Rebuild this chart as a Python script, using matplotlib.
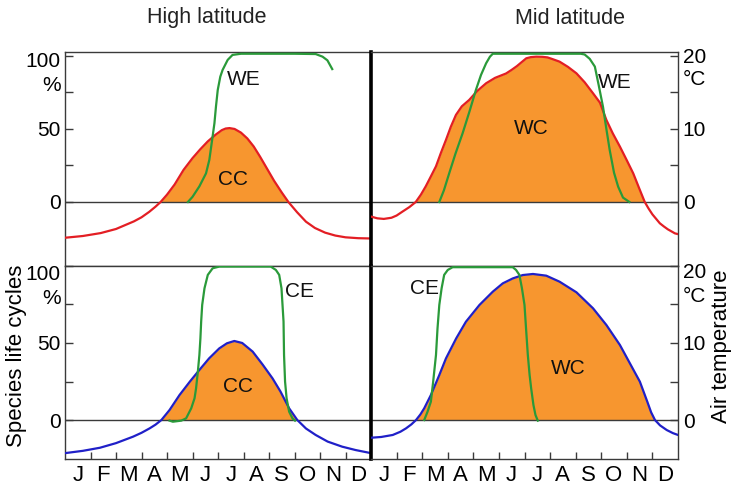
import matplotlib
matplotlib.use('Agg')
import matplotlib.pyplot as plt
import numpy as np

plt.rcParams['font.family'] = ['Liberation Sans', 'DejaVu Sans']

months = ['J', 'F', 'M', 'A', 'M', 'J', 'J', 'A', 'S', 'O', 'N', 'D']
titles = ['High latitude', 'Mid latitude']

# ---- High latitude, top: temperature (red, in % scale = 5 x degC) and WE (green)
hl_top_temp_x = [0, 0.7, 1.4, 2.0, 2.7, 3.0, 3.3, 3.55, 3.75, 4.0, 4.3, 4.65, 5.0, 5.3, 5.6, 5.9,
                 6.15, 6.3, 6.45, 6.65, 6.9, 7.15, 7.4, 7.65, 7.9, 8.2, 8.5, 8.76, 9.1, 9.45, 9.8,
                 10.2, 10.6, 11.0, 11.5, 12.0]
hl_top_temp_y = [-24.5, -23.3, -21.3, -18.5, -13.3, -10.5, -6.8, -3.2, 0, 5, 12, 22, 30, 36, 41.5, 46,
                 49.2, 50.3, 50.6, 50, 47.5, 43.5, 38, 31, 23.5, 14.5, 6.5, 0, -7, -13.5, -17.8,
                 -21, -23, -24.2, -24.8, -25]
hl_we_x = [4.82, 5.0, 5.27, 5.53, 5.66, 5.77, 5.86, 5.92, 5.99, 6.09, 6.18, 6.38, 6.57, 6.9, 8.0,
           9.0, 9.83, 10.1, 10.29, 10.48]
hl_we_y = [0, 3.5, 10.7, 19.6, 28.8, 42.5, 53.9, 65.3, 76.7, 85.8, 90.4, 97.3, 100.7, 101.5, 101.5,
           101.5, 101.3, 99.5, 97, 91]

# ---- Mid latitude, top
ml_top_temp_x = [0, 0.25, 0.5, 0.8, 1.0, 1.23, 1.5, 1.75, 1.95, 2.14, 2.34, 2.54, 2.73, 2.93, 3.12,
                 3.32, 3.55, 3.84, 4.15, 4.5, 4.85, 5.28, 5.5, 5.7, 6.07, 6.25, 6.46, 6.7, 6.9, 7.1,
                 7.37, 7.7, 8.03, 8.35, 8.68, 8.95, 9.2, 9.45, 9.73, 10.0, 10.25, 10.48, 10.7,
                 10.85, 11.0, 11.29, 11.45, 11.6, 11.88, 12.0]
ml_top_temp_y = [-10, -11.2, -11.6, -10.8, -9.3, -6.6, -3.5, 0, 5, 10.7, 17.5, 24.4, 33.5, 42.5, 51.5,
                 59.6, 65.5, 69.9, 76, 81.3, 85, 88, 90.5, 93, 98.4, 99.2, 99.5, 99.4, 99, 97.8,
                 96.1, 92.5, 88.1, 82, 74.4, 68, 56.2, 47, 37.9, 28.5, 19.6, 9.5, 0,
                 -4.5, -8.5, -14.6, -16.8, -18.7, -21.5, -22]
ml_we_x = [2.67, 2.85, 3.06, 3.3, 3.58, 3.85, 4.1, 4.3, 4.5, 4.65, 4.76, 5.0, 8.2, 8.35, 8.55,
           8.75, 8.9, 9.07, 9.2, 9.33, 9.5, 9.66, 9.85, 10.1]
ml_we_y = [0, 8, 19.8, 33, 47, 62, 76.7, 87, 95, 99.5, 101.5, 101.5, 101.5, 101, 98, 92.7, 80, 65,
           50, 35.6, 20, 10.5, 3, 0]

# ---- High latitude, bottom: temperature (blue) and CE (green)
hl_bot_temp_x = [0, 0.7, 1.37, 2.0, 2.67, 3.0, 3.32, 3.55, 3.78, 4.1, 4.49, 4.9, 5.27, 5.65, 6.05,
                 6.35, 6.64, 6.95, 7.36, 7.75, 8.14, 8.45, 8.79, 9.11, 9.45, 9.83, 10.3, 10.87,
                 11.4, 12.0]
hl_bot_temp_y = [-21.5, -20, -18, -15, -10.8, -8.3, -5.4, -3, 0, 6.5, 16.2, 25, 32.5, 40, 46.5,
                 49.8, 51.3, 50, 44.4, 36, 27, 18.5, 7.6, 0, -5.5, -9.7, -14, -17.3, -19.5, -21.5]
hl_ce_x = [4.1, 4.23, 4.56, 4.75, 4.95, 5.08, 5.14, 5.21, 5.27, 5.31, 5.34, 5.38, 5.47, 5.6, 5.79,
           6.05, 8.07, 8.27, 8.4, 8.49, 8.53, 8.57, 8.59, 8.63, 8.69, 8.79, 8.92, 9.02]
hl_ce_y = [-0.4, -1.1, -0.4, 1.1, 7.6, 14.1, 20.6, 31.4, 42.2, 53.0, 63.9, 74.7, 85.5, 94.2, 98.5,
           99.6, 99.6, 97.4, 94.2, 85.5, 74.7, 63.9, 42.2, 24.9, 14.1, 5.4, 1.1, -0.4]

# ---- Mid latitude, bottom
ml_bot_temp_x = [0, 0.4, 0.85, 1.15, 1.37, 1.58, 1.76, 1.93, 2.08, 2.34, 2.67, 2.93, 3.33, 3.71,
                 4.24, 4.76, 5.15, 5.54, 5.93, 6.33, 6.85, 7.37, 8.03, 8.68, 9.2, 9.73, 10.12,
                 10.51, 10.8, 10.95, 11.1, 11.3, 11.56, 11.8, 12.0]
ml_bot_temp_y = [-11.5, -11, -9.7, -7.6, -5.4, -2.8, 0, 3.6, 7.6, 16.2, 29.2, 40, 53, 63.8,
                 74.7, 83.3, 88.7, 91.9, 94.1, 94.8, 93.7, 89.8, 82.9, 72.5, 61.7, 48.7, 36.8,
                 24.9, 11.9, 5, 0, -3.5, -6.5, -8.5, -9.7]
ml_ce_x = [2.08, 2.21, 2.34, 2.43, 2.54, 2.6, 2.67, 2.76, 2.86, 3.0, 3.19, 5.54, 5.67, 5.8, 5.9,
           6.0, 6.06, 6.13, 6.2, 6.26, 6.35, 6.43, 6.52]
ml_ce_y = [0, 5.4, 11.9, 24.9, 42.2, 59.5, 74.7, 85.5, 94.2, 97.4, 99.2, 99.2, 97.4, 94.2, 85.5,
           74.7, 59.5, 42.2, 29.2, 20.6, 9.7, 3.2, -0.4]

# ---- annotation labels (text, x in months, y in %)
labels_tl = [('WE', 7.03, 83.6), ('CC', 6.57, 15.5)]
labels_tr = [('WC', 6.26, 50.5), ('WE', 9.53, 81.7)]
labels_bl = [('CE', 9.18, 83.3), ('CC', 6.77, 21.6)]
labels_br = [('CE', 2.08, 85.5), ('WC', 7.7, 33.6)]

ORANGE = '#F7962F'
RED = '#E31E24'
GREEN = '#2A9A3A'
BLUE = '#2020C8'
SPINE = '#3a3a3a'

W, H = 732, 486
fig = plt.figure(figsize=(W / 100, H / 100), dpi=100)


def rect(x0, y0, x1, y1):
    return [x0 / W, 1 - y1 / H, (x1 - x0) / W, (y1 - y0) / H]


XL, XM, XR = 65, 371, 678
YT, YM, YB = 52, 265.5, 459

ax_tl = fig.add_axes(rect(XL, YT, XM, YM))
ax_tr = fig.add_axes(rect(XM, YT, XR, YM))
ax_bl = fig.add_axes(rect(XL, YM, XM, YB))
ax_br = fig.add_axes(rect(XM, YM, XR, YB))

panels = [
    (ax_tl, hl_top_temp_x, hl_top_temp_y, RED, hl_we_x, hl_we_y, labels_tl, (-43.5, 102.7), 'left', False),
    (ax_tr, ml_top_temp_x, ml_top_temp_y, RED, ml_we_x, ml_we_y, labels_tr, (-43.5, 102.7), 'right', False),
    (ax_bl, hl_bot_temp_x, hl_bot_temp_y, BLUE, hl_ce_x, hl_ce_y, labels_bl, (-25.3, 100.3), 'left', True),
    (ax_br, ml_bot_temp_x, ml_bot_temp_y, BLUE, ml_ce_x, ml_ce_y, labels_br, (-25.3, 100.3), 'right', True),
]

for ax, tx, ty, tcol, gx, gy, labs, ylim, side, bottom in panels:
    tx = np.asarray(tx); ty = np.asarray(ty)
    ax.fill_between(tx, 0, ty, where=ty > 0, interpolate=True, color=ORANGE, lw=0, zorder=1)
    ax.axhline(0, color=SPINE, lw=1.0, zorder=2)
    ax.plot(tx, ty, color=tcol, lw=1.6, zorder=3, solid_joinstyle='round')
    ax.plot(gx, gy, color=GREEN, lw=1.6, zorder=4, solid_joinstyle='round')
    for t, x, y in labs:
        ax.text(x, y, t, fontsize=15, ha='center', va='center', color='#111111', zorder=5)
    ax.set_xlim(0, 12)
    ax.set_ylim(*ylim)
    for s in ax.spines.values():
        s.set_color(SPINE)
        s.set_linewidth(1.0)
    # x axis
    if bottom:
        ax.set_xticks(np.arange(1, 12))
        ax.set_xticklabels([])
        ax.set_xticks(np.arange(0.5, 12, 1), minor=True)
        ax.set_xticklabels(months, minor=True, fontsize=16)
        ax.tick_params(axis='x', which='major', direction='in', length=5, width=1, color=SPINE)
        ax.tick_params(axis='x', which='minor', length=0, pad=4)
    else:
        ax.set_xticks([])
    # y axis
    ax.set_yticks([0, 50, 100])
    ax.set_yticks([25, 75], minor=True)
    tr = ax.get_yaxis_transform()
    if side == 'left':
        ax.yaxis.set_ticks_position('left')
        ax.set_yticklabels(['0', '50', ''], fontsize=15)
        ax.spines['right'].set_visible(False)
        if bottom:
            y100, ypc = 94.2, 79.2
        else:
            y100, ypc = 95.9, 80.0
        ax.annotate('100', xy=(0, y100), xycoords=tr, xytext=(-3, 0), textcoords='offset points',
                    ha='right', va='center', fontsize=15)
        ax.annotate('%', xy=(0, ypc), xycoords=tr, xytext=(-3, 0), textcoords='offset points',
                    ha='right', va='center', fontsize=15)
        ax.tick_params(axis='y', which='both', direction='in', length=6, width=1, color=SPINE, pad=3)
    else:
        ax.yaxis.set_ticks_position('right')
        ax.set_yticklabels(['0', '10', ''], fontsize=15)
        ax.spines['left'].set_linewidth(2.6)
        ax.spines['left'].set_color('black')
        if bottom:
            y20, yc = 95.5, 80.0
        else:
            y20, yc = 98.6, 83.6
        ax.annotate('20', xy=(1, y20), xycoords=tr, xytext=(3.5, 0), textcoords='offset points',
                    ha='left', va='center', fontsize=15)
        ax.annotate('°C', xy=(1, yc), xycoords=tr, xytext=(3.5, 0), textcoords='offset points',
                    ha='left', va='center', fontsize=15)
        ax.tick_params(axis='y', which='both', direction='in', length=6, width=1, color=SPINE, pad=3.5)

fig.text(207 / W, 1 - 18 / H, titles[0], ha='center', va='center', fontsize=15.5, color='#222222')
fig.text(570 / W, 1 - 18 / H, titles[1], ha='center', va='center', fontsize=15.5, color='#222222')
fig.text(17 / W, 1 - 356 / H, 'Species life cycles', rotation=90, ha='center', va='center', fontsize=16)
fig.text(721 / W, 1 - 346 / H, 'Air temperature', rotation=90, ha='center', va='center', fontsize=16)

fig.savefig('out.png', dpi=100)
